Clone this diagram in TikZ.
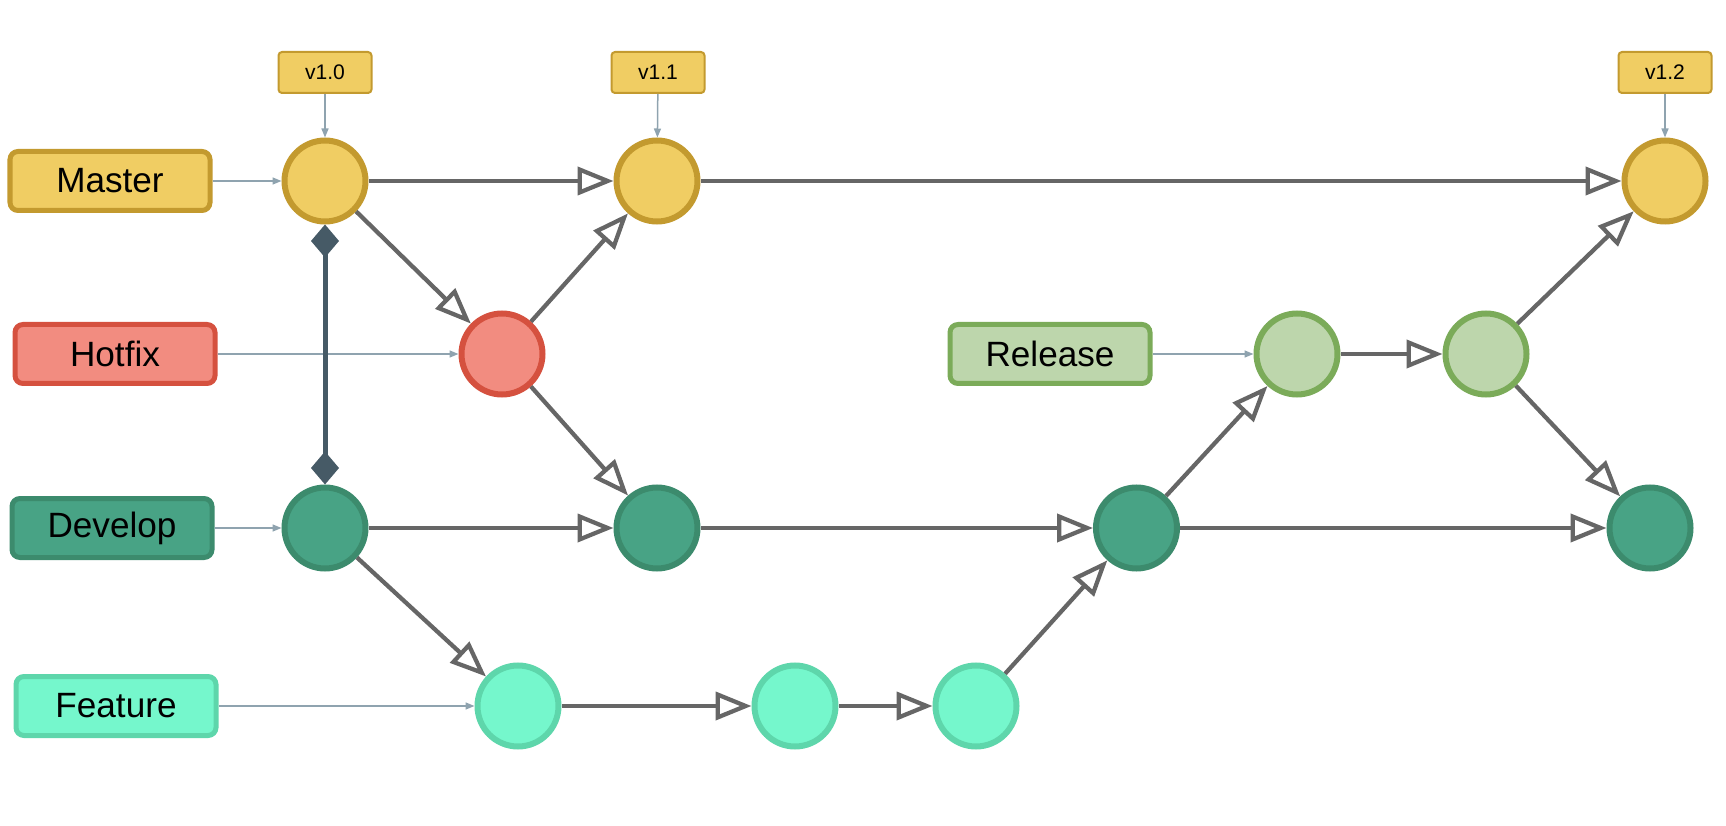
\documentclass[tikz,border=0pt]{standalone}
\usepackage{fontspec}
\setmainfont{Liberation Sans}
\usepackage{tikz}
\usepackage{xcolor}
\definecolor{masterfill}{HTML}{F0CD63}
\definecolor{masterdraw}{HTML}{C39A2F}
\definecolor{hotfixfill}{HTML}{F28C80}
\definecolor{hotfixdraw}{HTML}{D5513F}
\definecolor{developfill}{HTML}{48A385}
\definecolor{developdraw}{HTML}{3C8B6D}
\definecolor{featurefill}{HTML}{75F7CC}
\definecolor{featuredraw}{HTML}{5ED6AB}
\definecolor{releasefill}{HTML}{BDD6AC}
\definecolor{releasedraw}{HTML}{7BAB59}
\definecolor{edgegray}{HTML}{666666}
\definecolor{pointergray}{HTML}{8FA3AF}
\definecolor{linkslate}{HTML}{465A66}
\usetikzlibrary{arrows.meta}
\tikzset{commit/.style={circle,minimum size=1.62cm,inner sep=0pt,line width=0.12cm},
 branch/.style={rectangle,rounded corners=0.16cm,minimum width=4cm,minimum height=1.18cm,
   line width=0.1cm,font=\fontsize{20}{24}\selectfont},
 tag/.style={rectangle,rounded corners=2pt,minimum width=1.86cm,minimum height=0.82cm,
   line width=0.04cm,draw=masterdraw,fill=masterfill,font=\fontsize{12}{14}\selectfont},
 master/.style={draw=masterdraw,fill=masterfill},
 hotfix/.style={draw=hotfixdraw,fill=hotfixfill},
 develop/.style={draw=developdraw,fill=developfill},
 feature/.style={draw=featuredraw,fill=featurefill},
 release/.style={draw=releasedraw,fill=releasefill},
 flow/.style={draw=edgegray,line width=0.085cm,-{Triangle[open,length=0.72cm,width=0.56cm]}},
 pointer/.style={draw=pointergray,line width=0.03cm,-{Triangle[length=0.18cm,width=0.14cm]}},
 link/.style={draw=linkslate,fill=linkslate,line width=0.1cm,
   {Diamond[length=0.66cm,width=0.56cm]}-{Diamond[length=0.66cm,width=0.56cm]}},
 }

\begin{document}
\begin{tikzpicture}
        \useasboundingbox (0,0) rectangle (34.52,-16.52);
        \node[branch,master] (masterlbl) at (2.2,-3.62) {Master};
        \node[branch,hotfix] (hotfixlbl) at (2.3,-7.08) {Hotfix};
        \node[branch,develop] (developlbl) at (2.24,-10.56) {Develop};
        \node[branch,feature] (featurelbl) at (2.32,-14.12) {Feature};
        \node[branch,release] (releaselbl) at (21.0,-7.08) {Release};
        \node[commit,master] (m1) at (6.5,-3.62) {};
        \node[commit,master] (m2) at (13.14,-3.62) {};
        \node[commit,master] (m3) at (33.3,-3.62) {};
        \node[commit,hotfix] (h1) at (10.04,-7.08) {};
        \node[commit,release] (r1) at (25.94,-7.08) {};
        \node[commit,release] (r2) at (29.72,-7.08) {};
        \node[commit,develop] (d1) at (6.5,-10.56) {};
        \node[commit,develop] (d2) at (13.14,-10.56) {};
        \node[commit,develop] (d3) at (22.73,-10.56) {};
        \node[commit,develop] (d4) at (33.0,-10.56) {};
        \node[commit,feature] (f1) at (10.36,-14.12) {};
        \node[commit,feature] (f2) at (15.9,-14.12) {};
        \node[commit,feature] (f3) at (19.52,-14.12) {};
        \node[tag] (v10) at (6.5,-1.45) {v1.0};
        \node[tag] (v11) at (13.16,-1.45) {v1.1};
        \node[tag] (v12) at (33.3,-1.45) {v1.2};
        \draw[pointer] (masterlbl) -- (m1);
        \draw[pointer] (hotfixlbl) -- (h1);
        \draw[pointer] (developlbl) -- (d1);
        \draw[pointer] (featurelbl) -- (f1);
        \draw[pointer] (releaselbl) -- (r1);
        \draw[pointer] (v10) -- (m1);
        \draw[pointer] (v11) -- (m2);
        \draw[pointer] (v12) -- (m3);
        \draw[link] (m1) -- (d1);
        \draw[flow] (m1) -- (m2);
        \draw[flow] (m2) -- (m3);
        \draw[flow] (m1) -- (h1);
        \draw[flow] (h1) -- (m2);
        \draw[flow] (h1) -- (d2);
        \draw[flow] (d1) -- (d2);
        \draw[flow] (d2) -- (d3);
        \draw[flow] (d3) -- (d4);
        \draw[flow] (d1) -- (f1);
        \draw[flow] (f1) -- (f2);
        \draw[flow] (f2) -- (f3);
        \draw[flow] (f3) -- (d3);
        \draw[flow] (d3) -- (r1);
        \draw[flow] (r1) -- (r2);
        \draw[flow] (r2) -- (m3);
        \draw[flow] (r2) -- (d4);
    \end{tikzpicture}
\end{document}
